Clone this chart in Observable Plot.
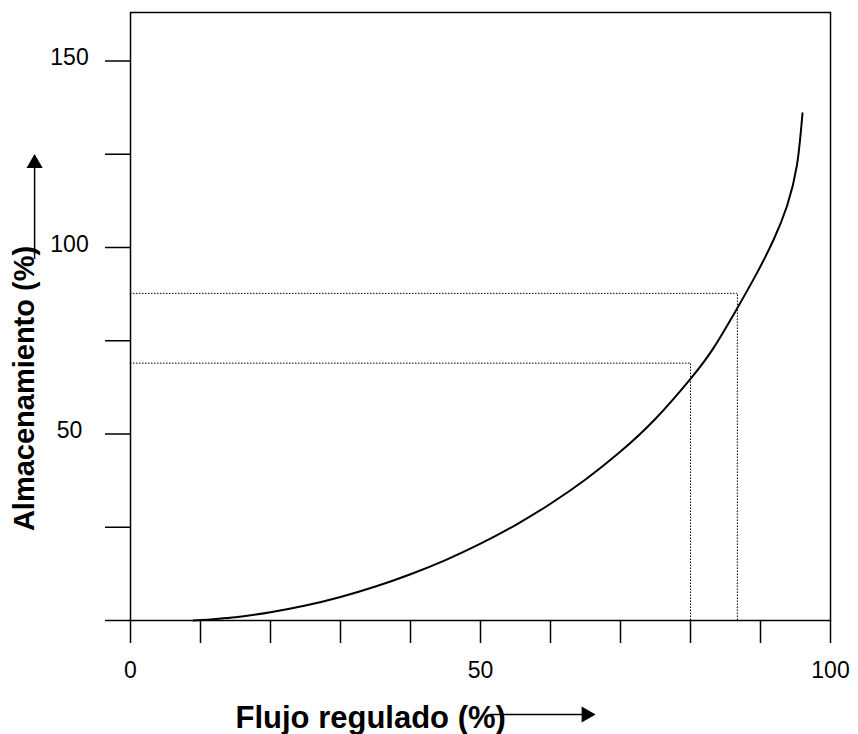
<!DOCTYPE html>
<html>
<head>
<meta charset="utf-8">
<script src="https://cdn.jsdelivr.net/npm/d3@7"></script>
<script src="https://cdn.jsdelivr.net/npm/@observablehq/plot@0.6"></script>
<style>
  html, body { margin: 0; padding: 0; background: #fff; }
  #chart svg { display: block; }
</style>
</head>
<body>
<div id="chart"></div>
<script>
// Curve: regulated flow (%) vs storage (%)
const flujo = [9, 15, 20, 25, 30, 35, 40, 45, 50, 55, 60, 65, 70, 75, 80, 83.3, 86.7, 89.5, 91.9, 93.8, 95.2, 96];
const almacenamiento = [0, 0.9, 2.2, 4.0, 6.3, 9.1, 12.4, 16.2, 20.6, 25.6, 31.3, 37.8, 45.3, 54.1, 64.8, 73.1, 83.8, 93.2, 102.2, 111.2, 122, 136];

// Dotted guide lines (flow, storage)
const guiaFlujo = [80, 86.7];
const guiaAlmacenamiento = [69, 87.7];

// Ticks and labels
const xTicks = [0, 10, 20, 30, 40, 50, 60, 70, 80, 90, 100];
const xLabels = [0, 50, 100];
const yTicks = [0, 25, 50, 75, 100, 125, 150];
const yLabels = [50, 100, 150];

const xTitle = "Flujo regulado (%)";
const yTitle = "Almacenamiento (%)";

// Axis-title arrows (in data units, outside the frame)
const yArrow = [{x: -13.7, y1: 100, y2: 125}];
const xArrow = [{y: -25.2, x1: 53.1, x2: 66.4}];

const curve = flujo.map((x, i) => ({x, y: almacenamiento[i]}));
const guides = guiaFlujo.map((x, i) => ({x, y: guiaAlmacenamiento[i]}));

const font = "'Liberation Sans', Arial, Helvetica, sans-serif";

const chart = Plot.plot({
  width: 858,
  height: 734,
  marginLeft: 130,
  marginRight: 28,
  marginTop: 12,
  marginBottom: 114,
  style: {fontFamily: font, color: "#000", background: "#fff", overflow: "visible"},
  x: {domain: [0, 100], axis: null},
  y: {domain: [0, 163], axis: null},
  marks: [
    // dotted guides
    Plot.ruleY(guides, {y: "y", x1: 0, x2: "x", stroke: "#000", strokeWidth: 1, strokeDasharray: "1.5,1.5"}),
    Plot.ruleX(guides, {x: "x", y1: 0, y2: "y", stroke: "#000", strokeWidth: 1, strokeDasharray: "1.5,1.5"}),
    // curve
    Plot.line(curve, {x: "x", y: "y", curve: "natural", stroke: "#000", strokeWidth: 2}),
    // frame
    Plot.frame({stroke: "#000", strokeWidth: 1.5}),
    // ticks
    Plot.axisX(xTicks, {tickSize: 23, tickFormat: () => "", stroke: "#000", strokeWidth: 1.5}),
    Plot.axisY(yTicks, {tickSize: 25, tickFormat: () => "", stroke: "#000", strokeWidth: 1.5}),
    // tick labels
    Plot.text(xLabels, {x: d => d, text: d => String(d), frameAnchor: "bottom", dy: 50, lineAnchor: "middle",
      textAnchor: "middle", fontSize: 23, fill: "#000"}),
    Plot.text(yLabels, {y: d => d, text: d => String(d), frameAnchor: "left", dx: -61, dy: -3, lineAnchor: "middle",
      textAnchor: "middle", fontSize: 23, fill: "#000"}),
    // axis titles
    Plot.text([xTitle], {frameAnchor: "bottom-left", dx: 105, dy: 107, textAnchor: "start", lineAnchor: "bottom",
      fontSize: 31, fontWeight: "bold", fill: "#000"}),
    Plot.text([yTitle], {frameAnchor: "left", dx: -97, dy: 72, rotate: -90, textAnchor: "middle", lineAnchor: "bottom",
      fontSize: 29, fontWeight: "bold", fill: "#000"}),
    // arrows
    Plot.ruleX(yArrow, {x: "x", y1: "y1", y2: "y2", dy: 12, stroke: "#000", strokeWidth: 1.5}),
    Plot.dot(yArrow, {x: "x", y: "y2", symbol: "triangle", r: 6, fill: "#000", stroke: null, dy: 9}),
    Plot.ruleY(xArrow, {y: "y", x1: "x1", x2: "x2", dx: -12, stroke: "#000", strokeWidth: 1.5}),
    Plot.dot(xArrow, {x: "x2", y: "y", symbol: "triangle", r: 6, fill: "#000", stroke: null, rotate: 90, dx: -9})
  ]
});

document.getElementById("chart").appendChild(chart);
</script>
</body>
</html>
